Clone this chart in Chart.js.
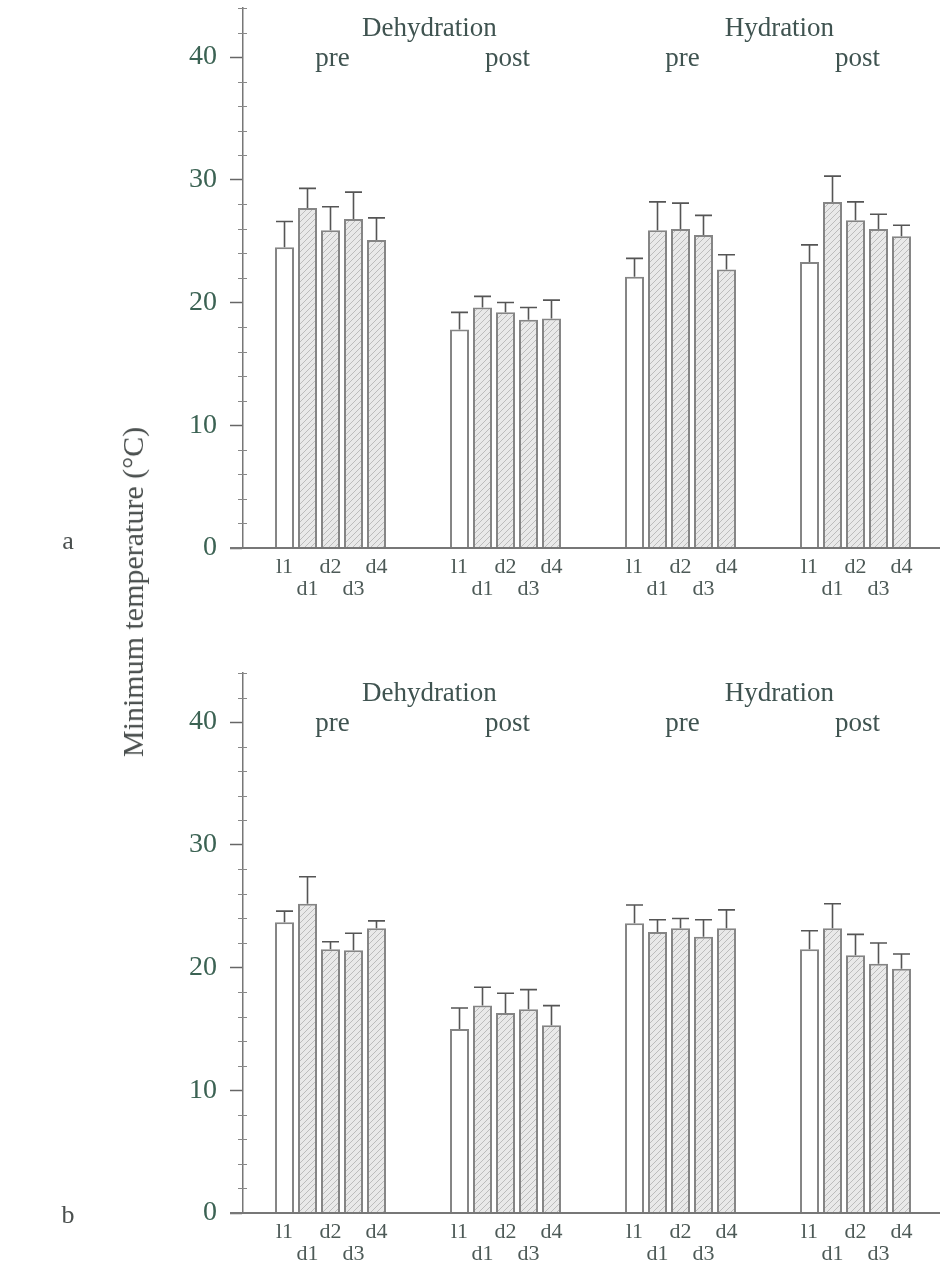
<!DOCTYPE html>
<html>
<head>
<meta charset="utf-8">
<script src="https://cdn.jsdelivr.net/npm/chart.js@4"></script>
<style>
  body { margin: 0; background: #fff; overflow: hidden; }
  #wrap { position: relative; width: 940px; height: 1264px; overflow: hidden; }
  canvas { position: absolute; left: 0; }
  .txt { position: absolute; font-family: 'Liberation Serif', serif; color: #4a4f4e; white-space: nowrap; transform: translate(-50%, -50%); }
  #ytitle { left: 133px; top: 592px; font-size: 30px; transform: translate(-50%, -50%) rotate(-90deg); }
</style>
</head>
<body>
<div id="wrap">
  <canvas id="chartA" width="950" height="600" style="top:0"></canvas>
  <canvas id="chartB" width="950" height="600" style="top:665px"></canvas>
  <div class="txt" id="ytitle">Minimum temperature (°C)</div>
  <div class="txt" style="left:68px;top:541px;font-size:26px">a</div>
  <div class="txt" style="left:68px;top:1215px;font-size:26px">b</div>
</div>
<script>
// groups along the x axis, bars inside each group
const groups = ['Dehydration pre', 'Dehydration post', 'Hydration pre', 'Hydration post'];
const series = ['l1', 'd1', 'd2', 'd3', 'd4'];
const conditions = ['Dehydration', 'Hydration'];
const phases = ['pre', 'post', 'pre', 'post'];
const yTicks = [0, 10, 20, 30, 40];

// panel a: means and upper error (SE)
const aL1 = [24.5, 17.8, 22.1, 23.3];
const aD1 = [27.7, 19.6, 25.9, 28.2];
const aD2 = [25.9, 19.2, 26.0, 26.7];
const aD3 = [26.8, 18.6, 25.5, 26.0];
const aD4 = [25.1, 18.7, 22.7, 25.4];
const aL1Err = [2.1, 1.4, 1.5, 1.4];
const aD1Err = [1.6, 0.9, 2.3, 2.1];
const aD2Err = [1.9, 0.8, 2.1, 1.5];
const aD3Err = [2.2, 1.0, 1.6, 1.2];
const aD4Err = [1.8, 1.5, 1.2, 0.9];

// panel b
const bL1 = [23.7, 15.0, 23.6, 21.5];
const bD1 = [25.2, 16.9, 22.9, 23.2];
const bD2 = [21.5, 16.3, 23.2, 21.0];
const bD3 = [21.4, 16.6, 22.5, 20.3];
const bD4 = [23.2, 15.3, 23.2, 19.9];
const bL1Err = [0.9, 1.7, 1.5, 1.5];
const bD1Err = [2.2, 1.5, 1.0, 2.0];
const bD2Err = [0.6, 1.6, 0.8, 1.7];
const bD3Err = [1.4, 1.6, 1.4, 1.7];
const bD4Err = [0.6, 1.6, 1.5, 1.2];

const serif = "'Liberation Serif', serif";

function hatch() {
  const c = document.createElement('canvas');
  c.width = 6; c.height = 6;
  const g = c.getContext('2d');
  g.fillStyle = '#e9e9e9';
  g.fillRect(0, 0, 6, 6);
  g.strokeStyle = '#bcbcbc';
  g.lineWidth = 1;
  g.beginPath();
  g.moveTo(0, 6); g.lineTo(6, 0);
  g.moveTo(-1, 1); g.lineTo(1, -1);
  g.moveTo(5, 7); g.lineTo(7, 5);
  g.stroke();
  return g.createPattern(c, 'repeat');
}
const hatchFill = hatch();

const overlay = {
  id: 'overlay',
  afterDatasetsDraw(chart) {
    const ctx = chart.ctx, y = chart.scales.y, x = chart.scales.x, area = chart.chartArea;
    const zero = y.getPixelForValue(0);
    ctx.save();
    // minor ticks on the y axis
    ctx.strokeStyle = '#888';
    ctx.lineWidth = 1;
    for (let v = 2; v <= y.max; v += 2) {
      if (v % 10 === 0) continue;
      const py = Math.round(y.getPixelForValue(v)) + 0.5;
      ctx.beginPath();
      ctx.moveTo(area.left - 5, py);
      ctx.lineTo(area.left + 4, py);
      ctx.stroke();
    }
    // baseline, running a little left of the y axis
    ctx.strokeStyle = '#777';
    ctx.lineWidth = 2;
    ctx.beginPath();
    ctx.moveTo(area.left - 13, zero);
    ctx.lineTo(chart.width, zero);
    ctx.stroke();
    // error bars and bar labels
    chart.data.datasets.forEach((ds, i) => {
      const meta = chart.getDatasetMeta(i);
      meta.data.forEach((bar, j) => {
        const top = y.getPixelForValue(ds.data[j] + ds.err[j]);
        ctx.strokeStyle = '#555';
        ctx.lineWidth = 1.6;
        ctx.beginPath();
        ctx.moveTo(bar.x, bar.y);
        ctx.lineTo(bar.x, top);
        ctx.moveTo(bar.x - 8.5, top);
        ctx.lineTo(bar.x + 8.5, top);
        ctx.stroke();
        ctx.fillStyle = '#4d5a57';
        ctx.font = '22px ' + serif;
        ctx.textAlign = 'center';
        ctx.textBaseline = 'middle';
        ctx.fillText(series[i], bar.x, zero + (i % 2 === 0 ? 19 : 41));
      });
    });
    // condition and phase headers
    ctx.fillStyle = '#3f5350';
    ctx.font = '27px ' + serif;
    ctx.textAlign = 'center';
    ctx.textBaseline = 'middle';
    const w = x.getPixelForValue(1) - x.getPixelForValue(0);
    conditions.forEach((c, k) => {
      const cx = (x.getPixelForValue(2 * k) + x.getPixelForValue(2 * k + 1)) / 2 + w * 0.065;
      ctx.fillText(c, cx, area.top + 21);
    });
    phases.forEach((p, k) => {
      ctx.fillText(p, x.getPixelForValue(k) + 2, area.top + 51);
    });
    ctx.restore();
  }
};

function makeChart(id, values, errors) {
  const datasets = series.map((name, i) => ({
    label: name,
    data: values[i],
    err: errors[i],
    backgroundColor: i === 0 ? '#ffffff' : hatchFill,
    borderColor: '#858585',
    borderWidth: 2,
    categoryPercentage: 0.657,
    barPercentage: 0.826
  }));
  return new Chart(document.getElementById(id), {
    type: 'bar',
    data: { labels: groups, datasets: datasets },
    options: {
      responsive: false,
      animation: false,
      layout: { padding: { top: 8, right: 7, left: 0, bottom: 0 } },
      plugins: { legend: { display: false }, tooltip: { enabled: false } },
      scales: {
        x: {
          grid: { display: false },
          border: { display: false },
          ticks: { display: false },
          afterFit(scale) { scale.height = 52; }
        },
        y: {
          min: 0,
          max: 44,
          ticks: {
            stepSize: 2,
            padding: 13,
            color: '#3b6253',
            font: { family: serif, size: 28 },
            callback: v => (yTicks.includes(v) ? String(v) : null)
          },
          grid: {
            drawOnChartArea: false,
            drawTicks: true,
            tickLength: 13,
            tickColor: '#666',
            tickWidth: 1.5
          },
          border: { display: true, color: '#777', width: 1.5 },
          afterFit(scale) {
            scale.width = 243;
            scale.paddingTop = 0;
            scale.paddingBottom = 0;
          }
        }
      }
    },
    plugins: [overlay]
  });
}

makeChart('chartA', [aL1, aD1, aD2, aD3, aD4], [aL1Err, aD1Err, aD2Err, aD3Err, aD4Err]);
makeChart('chartB', [bL1, bD1, bD2, bD3, bD4], [bL1Err, bD1Err, bD2Err, bD3Err, bD4Err]);
</script>
</body>
</html>
